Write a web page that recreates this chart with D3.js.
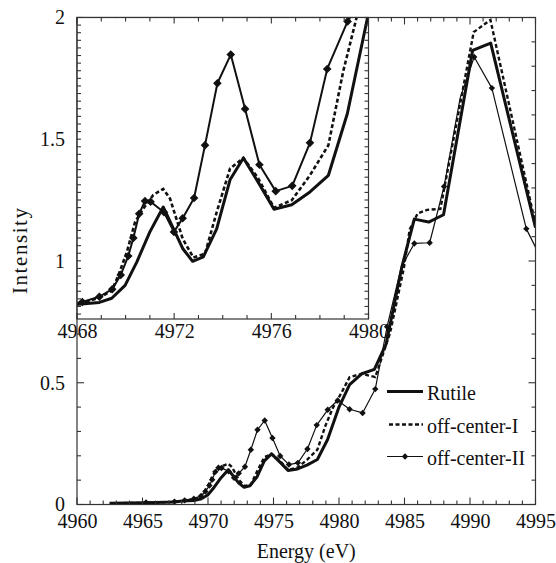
<!DOCTYPE html>
<html>
<head>
<meta charset="utf-8">
<script src="https://cdn.jsdelivr.net/npm/d3@7"></script>
<style>
  html, body { margin: 0; padding: 0; background: #fff; }
</style>
</head>
<body>
<svg id="chart" width="556" height="563"></svg>
<script>
// Ti K-edge XANES spectra (intensity vs energy, eV)
const rutileE = [4962.5, 4965.3, 4967.4, 4968.05, 4968.92, 4969.43, 4969.98, 4970.46, 4971.0, 4971.55,
  4972.35, 4972.76, 4973.2, 4973.75, 4974.3, 4974.85, 4975.53, 4976.11, 4976.84, 4977.59, 4978.35,
  4979.13, 4980.0, 4980.81, 4981.75, 4982.7, 4983.6, 4984.81, 4985.75, 4986.85, 4987.98, 4990.2,
  4991.58, 4995.0];
const rutileI = [0.005, 0.007, 0.010, 0.014, 0.0165, 0.022, 0.039, 0.070, 0.110, 0.143,
  0.088, 0.071, 0.077, 0.114, 0.179, 0.208, 0.172, 0.140, 0.146, 0.163, 0.185,
  0.267, 0.400, 0.492, 0.537, 0.555, 0.660, 0.978, 1.172, 1.160, 1.190, 1.865,
  1.895, 1.137];

const offCenterIE = [4962.5, 4965.3, 4967.4, 4968.05, 4968.92, 4969.43, 4969.70, 4970.05, 4970.39, 4970.73,
  4971.14, 4971.55, 4971.83, 4972.35, 4972.79, 4973.27, 4973.75, 4974.3, 4974.85, 4975.46, 4976.11,
  4976.84, 4977.59, 4978.35, 4978.96, 4979.54, 4980.15, 4980.81, 4981.75, 4982.77, 4983.9, 4984.94,
  4985.4, 4986.0, 4986.72, 4987.74, 4990.28, 4991.56, 4995.0];
const offCenterI = [0.005, 0.007, 0.011, 0.014, 0.023, 0.032, 0.052, 0.083, 0.123, 0.141,
  0.159, 0.167, 0.154, 0.101, 0.076, 0.081, 0.136, 0.194, 0.208, 0.181, 0.142,
  0.152, 0.185, 0.225, 0.323, 0.398, 0.455, 0.523, 0.537, 0.523, 0.705, 0.968,
  1.13, 1.195, 1.210, 1.214, 1.940, 1.990, 1.150];

const offCenterIIE = [4962.5, 4965.27, 4967.44, 4968.22, 4968.92, 4969.45, 4969.80, 4970.11, 4970.32, 4970.56,
  4970.80, 4971.03, 4971.58, 4971.99, 4972.35, 4972.82, 4973.27, 4973.78, 4974.33, 4974.92, 4975.51,
  4976.18, 4976.86, 4977.59, 4978.30, 4979.14, 4979.9, 4980.81, 4981.8, 4982.77, 4983.67, 4984.75,
  4985.75, 4986.92, 4988.02, 4989.25, 4990.32, 4991.67, 4994.3, 4995.0];
const offCenterII = [0.005, 0.008, 0.012, 0.017, 0.024, 0.034, 0.053, 0.078, 0.102, 0.134,
  0.151, 0.150, 0.136, 0.110, 0.128, 0.155, 0.225, 0.307, 0.345, 0.273, 0.199,
  0.164, 0.171, 0.228, 0.326, 0.389, 0.427, 0.391, 0.376, 0.474, 0.730, 0.975,
  1.072, 1.075, 1.306, 1.670, 1.838, 1.710, 1.132, 1.057];
// points of off-center-II that carry a diamond in the full-range panel
const offCenterIIMarked = [false, true, true, true, true, true, true, true, true, true,
  true, true, true, true, true, true, true, true, true, true, true,
  true, true, true, true, true, true, true, true, true, true, false,
  true, true, true, false, true, true, true, false];

// Axis ticks and labels
const xMajor = [4960, 4965, 4970, 4975, 4980, 4985, 4990, 4995];
const yMajor = [0, 0.5, 1, 1.5, 2];
const yLabels = ["0", "0.5", "1", "1.5", "2"];
const insetXMajor = [4968, 4972, 4976, 4980];
// inset intensity = insetOffset + insetGain * intensity
const insetOffset = 0.778;
const insetGain = 3.1;
const legendNames = ["Rutile", "off-center-I", "off-center-II"];

const FONT = "'Liberation Serif', 'Times New Roman', 'DejaVu Serif', serif";
const svg = d3.select("#chart");

// Main panel geometry
const pL = 77, pR = 535.5, pT = 17.5, pB = 504.5;
const x = d3.scaleLinear().domain([4960, 4995]).range([pL, pR]);
const y = d3.scaleLinear().domain([0, 2]).range([pB, pT]);

// Inset geometry
const iR = 368.5, iB = 319;
const xi = d3.scaleLinear().domain([4968, 4980]).range([pL, iR]);
const yi = d3.scaleLinear().domain([0.761, 2]).range([iB, pT]);
const yInset = v => yi(insetOffset + insetGain * v);

const defs = svg.append("defs");
defs.append("clipPath").attr("id", "clipMain")
  .append("rect").attr("x", pL).attr("y", pT).attr("width", pR - pL).attr("height", pB - pT);
defs.append("clipPath").attr("id", "clipInset")
  .append("rect").attr("x", pL).attr("y", pT).attr("width", iR - pL).attr("height", iB - pT);

const toPts = (E, I) => E.map((e, i) => ({ e, v: I[i], i }));
const rutilePts = toPts(rutileE, rutileI);
const offIPts = toPts(offCenterIE, offCenterI);
const offIIPts = toPts(offCenterIIE, offCenterII);

const diamond = (s) => `M0,${-s}L${s},0L0,${s}L${-s},0Z`;
const ink = "#111";
const frameColor = "#333";
const styleText = sel => sel.style("font-family", FONT).style("font-size", "20px").attr("fill", ink);

function ticksLine(g, pts, color) {
  g.selectAll(null).data(pts).join("line")
    .attr("x1", d => d[0]).attr("y1", d => d[1]).attr("x2", d => d[2]).attr("y2", d => d[3])
    .attr("stroke", color).attr("stroke-width", 1.1);
}

// ---------- inset x labels (sit under the main curves) ----------
const axIB = d3.axisBottom(xi).tickValues(insetXMajor).tickFormat(d3.format("d")).tickSize(0).tickPadding(5);
svg.append("g").attr("transform", `translate(0,${iB})`).call(axIB)
  .call(g => g.select(".domain").remove())
  .selectAll("text").call(styleText);

// ---------- main panel curves ----------
const lineMain = d3.line().x(d => x(d.e)).y(d => y(d.v));
const gMain = svg.append("g").attr("clip-path", "url(#clipMain)");
gMain.append("path").datum(offIIPts).attr("d", lineMain)
  .attr("fill", "none").attr("stroke", ink).attr("stroke-width", 1.2).attr("stroke-linejoin", "round");
gMain.selectAll("path.mk").data(offIIPts.filter(d => offCenterIIMarked[d.i])).join("path")
  .attr("class", "mk").attr("d", diamond(3.2))
  .attr("transform", d => `translate(${x(d.e)},${y(d.v)})`).attr("fill", ink);
gMain.append("path").datum(offIPts).attr("d", lineMain)
  .attr("fill", "none").attr("stroke", ink).attr("stroke-width", 2.4).attr("stroke-dasharray", "4,2.5");
gMain.append("path").datum(rutilePts).attr("d", lineMain)
  .attr("fill", "none").attr("stroke", ink).attr("stroke-width", 3).attr("stroke-linejoin", "round");

// ---------- main frame and ticks ----------
svg.append("rect").attr("x", pL).attr("y", pT).attr("width", pR - pL).attr("height", pB - pT)
  .attr("fill", "none").attr("stroke", frameColor).attr("stroke-width", 1.2);

const gTicks = svg.append("g");
const xMinor = d3.range(4960, 4995.5, 1);
const yMinor = d3.range(0, 2.001, 0.1);
const isMajX = e => xMajor.includes(Math.round(e));
const isMajY = v => Math.abs(v * 2 - Math.round(v * 2)) < 1e-6;
ticksLine(gTicks, xMinor.map(e => { const L = isMajX(e) ? 7 : 4; return [x(e), pB, x(e), pB - L]; }), frameColor);
ticksLine(gTicks, xMinor.map(e => { const L = isMajX(e) ? 7 : 4; return [x(e), pT, x(e), pT + L]; }), frameColor);
ticksLine(gTicks, yMinor.map(v => { const L = isMajY(v) ? 7 : 4; return [pL, y(v), pL + L, y(v)]; }), frameColor);
ticksLine(gTicks, yMinor.map(v => { const L = isMajY(v) ? 7 : 4; return [pR, y(v), pR - L, y(v)]; }), frameColor);

// main tick labels through d3 axes
const axB = d3.axisBottom(x).tickValues(xMajor).tickFormat(d3.format("d")).tickSize(0).tickPadding(9);
svg.append("g").attr("transform", `translate(0,${pB})`).call(axB)
  .call(g => g.select(".domain").remove())
  .selectAll("text").call(styleText);
const axL = d3.axisLeft(y).tickValues(yMajor).tickFormat((d, i) => yLabels[i]).tickSize(0).tickPadding(12);
svg.append("g").attr("transform", `translate(${pL},0)`).call(axL)
  .call(g => g.select(".domain").remove())
  .selectAll("text").call(styleText);

// axis titles
svg.append("text").attr("x", (pL + pR) / 2).attr("y", 558).attr("text-anchor", "middle")
  .call(styleText).text("Energy (eV)");
svg.append("text").attr("transform", `translate(27,${(pT + pB) / 2 - 10}) rotate(-90)`)
  .attr("text-anchor", "middle").call(styleText).style("font-size", "21px")
  .attr("textLength", 86).attr("lengthAdjust", "spacing").text("Intensity");

// ---------- inset ----------
svg.append("rect").attr("x", pL + 0.6).attr("y", pT + 0.6).attr("width", iR - pL - 1.2).attr("height", iB - pT - 1.2)
  .attr("fill", "#fff");
const lineInset = d3.line().x(d => xi(d.e)).y(d => yInset(d.v));
const gIn = svg.append("g").attr("clip-path", "url(#clipInset)");
const inRange = d => d.e >= 4967.5 && d.e <= 4980.6;
gIn.append("path").datum(rutilePts).attr("d", lineInset)
  .attr("fill", "none").attr("stroke", ink).attr("stroke-width", 3).attr("stroke-linejoin", "round");
gIn.append("path").datum(offIPts).attr("d", lineInset)
  .attr("fill", "none").attr("stroke", ink).attr("stroke-width", 2.6).attr("stroke-dasharray", "4,2.5");
gIn.append("path").datum(offIIPts).attr("d", lineInset)
  .attr("fill", "none").attr("stroke", ink).attr("stroke-width", 2).attr("stroke-linejoin", "round");
gIn.selectAll("path.mk").data(offIIPts.filter(inRange)).join("path")
  .attr("class", "mk").attr("d", diamond(4.3))
  .attr("transform", d => `translate(${xi(d.e)},${yInset(d.v)})`).attr("fill", ink);

svg.append("rect").attr("x", pL).attr("y", pT).attr("width", iR - pL).attr("height", iB - pT)
  .attr("fill", "none").attr("stroke", frameColor).attr("stroke-width", 1.2);

const gIT = svg.append("g");
const ixMinor = d3.range(4968, 4980.5, 1);
const isMajIX = e => insetXMajor.includes(Math.round(e));
ticksLine(gIT, ixMinor.map(e => { const L = isMajIX(e) ? 6 : 4; return [xi(e), iB, xi(e), iB - L]; }), frameColor);
ticksLine(gIT, ixMinor.map(e => { const L = isMajIX(e) ? 6 : 4; return [xi(e), pT, xi(e), pT + L]; }), frameColor);
const iyMinor = d3.range(2, 0.76, -0.03125);
ticksLine(gIT, iyMinor.map(u => [iR, yi(u), iR - 4, yi(u)]), frameColor);
ticksLine(gIT, iyMinor.map(u => [pL, yi(u), pL + 4, yi(u)]), frameColor);

// ---------- legend ----------
const lg = svg.append("g");
const lgX1 = 387, lgX2 = 423, lgTextX = 427;
const lgY = [391.5, 424.5, 456.5];
lg.append("line").attr("x1", lgX1).attr("x2", lgX2).attr("y1", lgY[0]).attr("y2", lgY[0])
  .attr("stroke", ink).attr("stroke-width", 3);
lg.append("line").attr("x1", lgX1 + 2).attr("x2", lgX2).attr("y1", lgY[1]).attr("y2", lgY[1])
  .attr("stroke", ink).attr("stroke-width", 2.4).attr("stroke-dasharray", "4,2.5");
lg.append("line").attr("x1", lgX1).attr("x2", lgX2).attr("y1", lgY[2]).attr("y2", lgY[2])
  .attr("stroke", ink).attr("stroke-width", 1.2);
lg.append("path").attr("d", diamond(3.2)).attr("transform", `translate(${(lgX1 + lgX2) / 2},${lgY[2]})`).attr("fill", ink);
lg.selectAll("text").data(legendNames).join("text")
  .attr("x", lgTextX).attr("y", (d, i) => lgY[i] + 8.5).call(styleText).text(d => d);
</script>
</body>
</html>
